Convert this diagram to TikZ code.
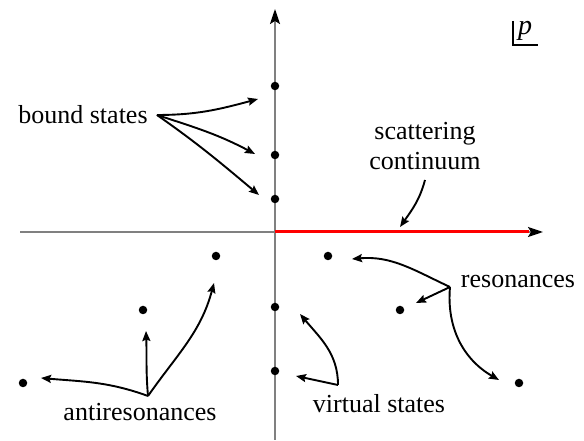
\documentclass[tikz,border=0pt]{standalone}
\usepackage{fontspec}
\setmainfont{Liberation Serif}
\usetikzlibrary{arrows.meta}
\begin{document}
\begin{tikzpicture}[x=1pt,y=1pt,
  dot/.style={circle,fill=black,inner sep=0pt,minimum size=8.5pt},
  lbl/.style={inner sep=0pt,font=\fontsize{26}{30}\selectfont,align=center},
  axis/.style={draw=gray,line width=2pt},
  conn/.style={line width=1.9pt,-{Stealth[length=10pt,width=8pt,inset=1.5pt]}}]
\useasboundingbox (0,0) rectangle (584,441);
% axes
\coordinate (xl) at (20,209);
\coordinate (xr) at (543,209);
\coordinate (o) at (275,209);
\coordinate (yb) at (275,1);
\coordinate (yt) at (275,432);
\draw[axis,-{Stealth[length=15pt,width=10pt,inset=3pt,black]}] (xl) -- (xr);
\draw[axis,-{Stealth[length=15pt,width=10pt,inset=3pt,black]}] (yb) -- (yt);
\draw[red,line width=3pt] (o) -- (529,209);
% dots
\node[dot] (b1) at (275,355) {};
\node[dot] (b2) at (275,286) {};
\node[dot] (b3) at (275,242) {};
\node[dot] (r1) at (328,185) {};
\node[dot] (r2) at (400,131) {};
\node[dot] (r3) at (519,58) {};
\node[dot] (a1) at (216,185) {};
\node[dot] (a2) at (143,131) {};
\node[dot] (a3) at (23,58) {};
\node[dot] (v1) at (275,134) {};
\node[dot] (v2) at (275,70) {};
% labels
\node[lbl] (bs) at (83,326) {bound states};
\node[lbl] (sc) at (425,295) {scattering\\continuum};
\node[lbl] (rs) at (518,159) {resonances};
\node[lbl] (ar) at (140,29) {antiresonances};
\node[lbl] (vs) at (379,37) {virtual states};
\node[inner sep=0pt,font=\fontsize{28}{32}\selectfont\itshape] (pl) at (525,410) {p};
\coordinate (pc1) at (513,420);
\coordinate (pc2) at (513,396);
\coordinate (pc3) at (538,396);
\draw[line width=1.4pt] (pc1) -- (pc2) -- (pc3);
% arrow points
\coordinate (bs0) at (157,326);
\coordinate (be1) at (258,342);
\coordinate (be2) at (255,287);
\coordinate (be3) at (259,246);
\coordinate (sc0) at (425,261);
\coordinate (sce) at (400,214);
\coordinate (rs0) at (450,154);
\coordinate (re1) at (352,182);
\coordinate (re2) at (416,138);
\coordinate (re3) at (499,61);
\coordinate (ar0) at (148,45);
\coordinate (ae1) at (41,63);
\coordinate (ae2) at (146,110);
\coordinate (ae3) at (214,158);
\coordinate (vs0) at (338,56);
\coordinate (ve1) at (296,65);
\coordinate (ve2) at (300,127);
% connectors
\draw[conn] (bs0) to[out=0,in=195] (be1);
\draw[conn] (bs0) to[out=-18,in=152] (be2);
\draw[conn] (bs0) to[out=-35,in=140] (be3);
\draw[conn] (sc0) to[out=-105,in=55] (sce);
\draw[conn] (rs0) to[out=155,in=5] (re1);
\draw[conn] (rs0) -- (re2);
\draw[conn] (rs0) to[out=-95,in=150] (re3);
\draw[conn] (ar0) to[out=160,in=-5] (ae1);
\draw[conn] (ar0) to[out=95,in=-88] (ae2);
\draw[conn] (ar0) to[out=55,in=-105] (ae3);
\draw[conn] (vs0) -- (ve1);
\draw[conn] (vs0) to[out=90,in=-50] (ve2);
\end{tikzpicture}
\end{document}
